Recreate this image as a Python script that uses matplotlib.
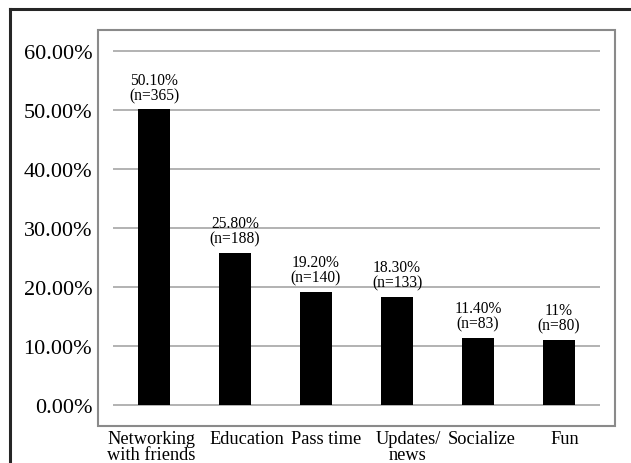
import matplotlib.pyplot as plt
from matplotlib.lines import Line2D
from matplotlib.patches import Rectangle
from matplotlib.transforms import ScaledTranslation

# --- data ---
categories = ["Networking\nwith friends", "Education", "Pass time", "Updates/\nnews", "Socialize", "Fun"]
percent = [50.1, 25.8, 19.2, 18.3, 11.4, 11.0]
value_text = ["50.10%", "25.80%", "19.20%", "18.30%", "11.40%", "11%"]
counts = [365, 188, 140, 133, 83, 80]
y_ticks = [0, 10, 20, 30, 40, 50, 60]

plt.rcParams["font.family"] = ["Liberation Serif", "DejaVu Serif"]

W, H = 631, 464
fig = plt.figure(figsize=(W / 100, H / 100), dpi=100)

# axes placed in pixel terms: 0% at y=406, 10% step = 59 px, bars spaced 81 px
px = 5.9
ax_left, ax_right = 113, 600
y_bot, y_top = -1, 62
bottom_px = 406 + (0 - y_bot) * px
top_px = 406 - y_top * px
ax = fig.add_axes([ax_left / W, 1 - bottom_px / H, (ax_right - ax_left) / W, (bottom_px - top_px) / H])

x = list(range(len(categories)))
ax.bar(x, percent, width=0.4, color="black", zorder=3)
for yt in y_ticks:
    ax.axhline(yt, color="#a6a6a6", lw=1.2, zorder=1)

for xi, p, vt, n in zip(x, percent, value_text, counts):
    ax.text(xi, p + 1.1, f"{vt}\n(n={n})", ha="center", va="bottom",
            fontsize=11.2, linespacing=0.95, zorder=4)

ax.set_xlim(-0.506, 5.506)
ax.set_ylim(y_bot, y_top)
ax.set_yticks(y_ticks)
ax.set_yticklabels([f"{t:.2f}%" for t in y_ticks], fontsize=16)
ax.set_xticks(x)
ax.set_xticklabels(categories, fontsize=13.2, linespacing=0.92)
ax.tick_params(axis="y", length=0, pad=15)
ax.tick_params(axis="x", length=0, pad=14)
for s in ax.spines.values():
    s.set_visible(False)
ax.patch.set_alpha(0)

# category labels sit in evenly spread cells, slightly right of the bars
label_shift_px = [-3, 12, 10, 11, 4, 6]
for lbl, dx in zip(ax.get_xticklabels(), label_shift_px):
    lbl.set_transform(lbl.get_transform() + ScaledTranslation(dx / 100, 0, fig.dpi_scale_trans))

# gray plot-area box
fig.patches.append(Rectangle((98 / W, 1 - 427 / H), (615 - 98) / W, (427 - 31) / H,
                             transform=fig.transFigure, fill=False,
                             edgecolor="#8a8a8a", lw=1.5, zorder=0))
# dark outer frame (left and top edges)
fig.lines.append(Line2D([10 / W, 10 / W], [0, 1 - 10 / H], transform=fig.transFigure,
                        color="#262626", lw=2.2))
fig.lines.append(Line2D([10 / W, 1], [1 - 10 / H, 1 - 10 / H], transform=fig.transFigure,
                        color="#262626", lw=2.2))

fig.savefig("out.png", dpi=100)
